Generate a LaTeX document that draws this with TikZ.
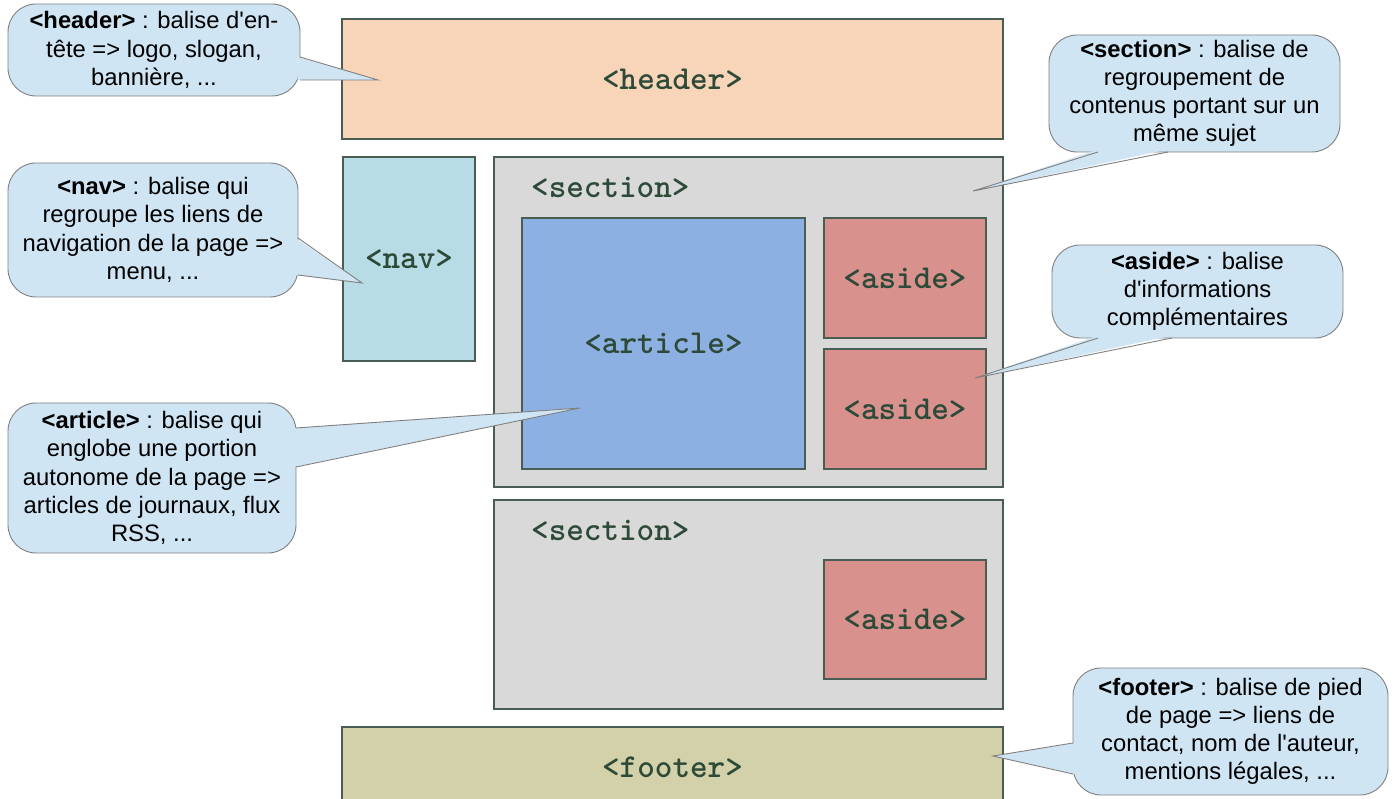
\documentclass[tikz,border=0pt]{standalone}
\usepackage{fontspec}
\setmainfont{Liberation Sans}
\newfontfamily\callfont[Ligatures=TeXOff]{Liberation Sans}
\definecolor{hdrfill}{HTML}{F8D5B9}
\definecolor{navfill}{HTML}{B7DCE6}
\definecolor{secfill}{HTML}{D9D9D9}
\definecolor{artfill}{HTML}{8DB0E2}
\definecolor{asdfill}{HTML}{D8918C}
\definecolor{ftrfill}{HTML}{D2D1A9}
\definecolor{boxline}{HTML}{4A5D52}
\definecolor{lbl}{HTML}{2D4A38}
\definecolor{cfill}{HTML}{CFE5F3}
\definecolor{cline}{HTML}{808080}
\newcommand\boxlblfont{\ttfamily\bfseries\fontsize{33.5}{34}\selectfont}
\tikzset{
  blk/.style={draw=boxline, line width=1.5pt, inner sep=0pt, outer sep=0pt,
    font=\boxlblfont, text=lbl},
  lbltext/.style={inner sep=0pt, font=\boxlblfont, text=lbl},
  callbox/.style={draw=cline, line width=0.9pt, fill=cfill, rounded corners=28pt,
    inner sep=0pt, align=center, text=black,
    font=\callfont\fontsize{23.8}{28.2}\selectfont},
  wedgefill/.style={fill=cfill},
  wedgeline/.style={draw=cline, line width=0.9pt, line join=miter},
}
\begin{document}
\begin{tikzpicture}[x=1pt,y=-1pt]
\useasboundingbox (0,0) rectangle (1398,799);
% layout boxes
\node[blk, fill=hdrfill, minimum width=661pt, minimum height=120pt] (header) at (672.5,79) {<header>};
\node[blk, fill=navfill, minimum width=132pt, minimum height=204pt] (nav) at (409,259) {<nav>};
\node[blk, fill=secfill, minimum width=509pt, minimum height=330pt] (sec1) at (748.5,322) {};
\node[lbltext, anchor=west] (sec1lbl) at (531,187) {<section>};
\node[blk, fill=artfill, minimum width=283pt, minimum height=251pt] (article) at (663.5,343.5) {<article>};
\node[blk, fill=asdfill, minimum width=162pt, minimum height=120pt] (aside1) at (905,278) {<aside>};
\node[blk, fill=asdfill, minimum width=162pt, minimum height=120pt] (aside2) at (905,409) {<aside>};
\node[blk, fill=secfill, minimum width=509pt, minimum height=209pt] (sec2) at (748.5,604.5) {};
\node[lbltext, anchor=west] (sec2lbl) at (531,530) {<section>};
\node[blk, fill=asdfill, minimum width=162pt, minimum height=119pt] (aside3) at (905,619.5) {<aside>};
\node[blk, fill=ftrfill, minimum width=661pt, minimum height=80pt] (footer) at (672.5,767) {<footer>};

% callouts
\node[callbox, minimum width=292pt, minimum height=92pt] (cH) at (154,50)
  {\textbf{<header>} : balise d'en-\\tête => logo, slogan,\\bannière, ...};
\coordinate (cHa) at (300,57); \coordinate (cHb) at (300,80); \coordinate (cHt) at (378,80);
\fill[wedgefill] ([xshift=-2.5pt]cHa) -- (cHt) -- ([xshift=-2.5pt]cHb) -- cycle;
\draw[wedgeline] (cHa) -- (cHt) -- (cHb);

\node[callbox, minimum width=290pt, minimum height=134pt] (cN) at (153,230)
  {\textbf{<nav>} : balise qui\\regroupe les liens de\\navigation de la page =>\\menu, ...};
\coordinate (cNa) at (298,238); \coordinate (cNb) at (298,275); \coordinate (cNt) at (362,283);
\fill[wedgefill] ([xshift=-2.5pt]cNa) -- (cNt) -- ([xshift=-2.5pt]cNb) -- cycle;
\draw[wedgeline] (cNa) -- (cNt) -- (cNb);

\node[callbox, minimum width=288pt, minimum height=150pt] (cA) at (152,478)
  {\textbf{<article>} : balise qui\\englobe une portion\\autonome de la page =>\\articles de journaux, flux\\RSS, ...};
\coordinate (cAa) at (296,428); \coordinate (cAb) at (296,467); \coordinate (cAt) at (580,408);
\fill[wedgefill] ([xshift=-2.5pt]cAa) -- (cAt) -- ([xshift=-2.5pt]cAb) -- cycle;
\draw[wedgeline] (cAa) -- (cAt) -- (cAb);

\node[callbox, minimum width=291pt, minimum height=117pt] (cS) at (1194.5,93.5)
  {\textbf{<section>} : balise de\\regroupement de\\contenus portant sur un\\même sujet};
\coordinate (cSa) at (1098,152); \coordinate (cSb) at (1168,152); \coordinate (cSt) at (973,191);
\fill[wedgefill] ([yshift=2.5pt]cSa) -- (cSt) -- ([yshift=2.5pt]cSb) -- cycle;
\draw[wedgeline] (cSa) -- (cSt) -- (cSb);

\node[callbox, minimum width=291pt, minimum height=93pt] (cAs) at (1197.5,291.5)
  {\textbf{<aside>} : balise\\d'informations\\complémentaires};
\coordinate (cAsa) at (1098,338); \coordinate (cAsb) at (1172,338); \coordinate (cAst) at (975,378);
\fill[wedgefill] ([yshift=2.5pt]cAsa) -- (cAst) -- ([yshift=2.5pt]cAsb) -- cycle;
\draw[wedgeline] (cAsa) -- (cAst) -- (cAsb);

\node[callbox, minimum width=315pt, minimum height=127pt] (cF) at (1230.5,731.5)
  {\textbf{<footer>} : balise de pied\\de page => liens de\\contact, nom de l'auteur,\\mentions légales, ...};
\coordinate (cFa) at (1073,743); \coordinate (cFb) at (1073,774); \coordinate (cFt) at (993,756);
\fill[wedgefill] ([xshift=2.5pt]cFa) -- (cFt) -- ([xshift=2.5pt]cFb) -- cycle;
\draw[wedgeline] (cFa) -- (cFt) -- (cFb);
\end{tikzpicture}
\end{document}
